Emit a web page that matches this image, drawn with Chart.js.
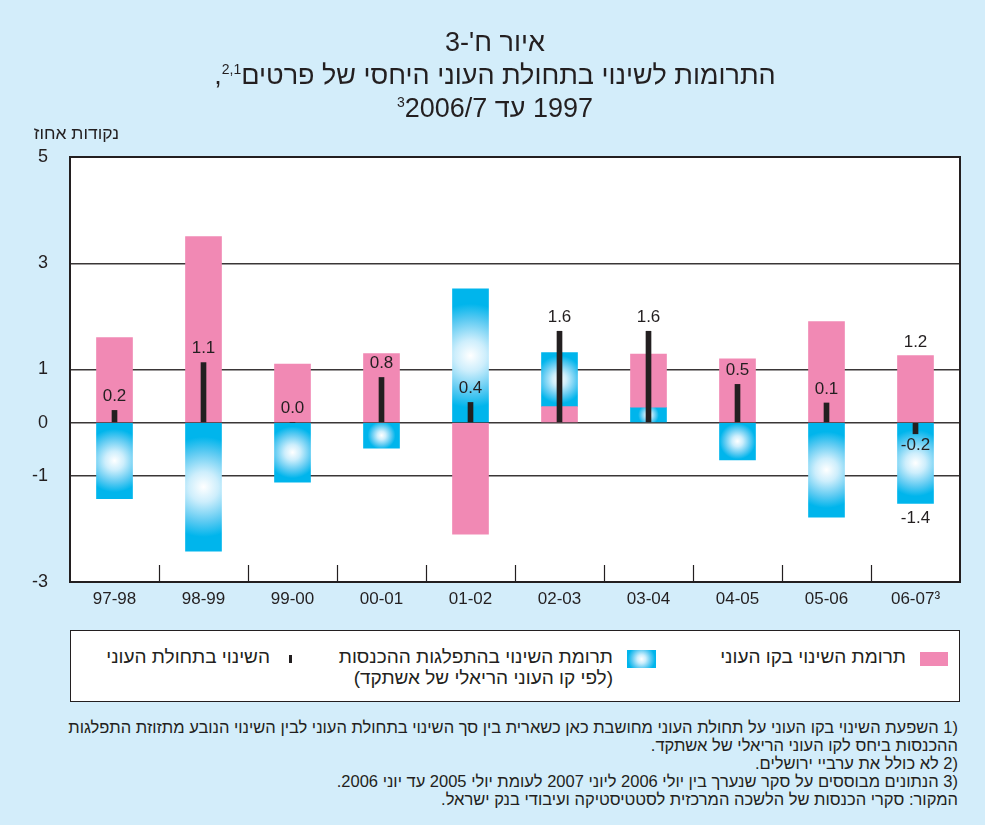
<!DOCTYPE html>
<html lang="he">
<head>
<meta charset="utf-8">
<script src="https://cdn.jsdelivr.net/npm/chart.js@4"></script>
<style>
  body { margin: 0; background: #d3edfa; font-family: "Liberation Sans", Arial, sans-serif; color: #231f20; }
  #page { position: relative; width: 985px; height: 825px; overflow: hidden; }
  #title { position: absolute; left: 0; top: 26px; width: 990px; text-align: center; font-size: 27px; line-height: 33px; z-index: 2; }
  #title sup { font-size: 14px; vertical-align: 10px; line-height: 0; }
  #unit { position: absolute; right: 866px; top: 123px; font-size: 17.5px; white-space: nowrap; z-index: 2; }
  #wrap { position: absolute; left: 0; top: 0; width: 985px; height: 620px; }
  #legend { position: absolute; left: 70px; top: 630px; width: 888px; height: 70px; background: #fff; border: 1.5px solid #231f20; font-size: 19px; }
  .item { position: absolute; white-space: nowrap; line-height: 21px; text-align: right; }
  .sw { position: absolute; }
  #notes { position: absolute; right: 27px; top: 718px; font-size: 16.5px; line-height: 18px; text-align: right; white-space: nowrap; }
</style>
</head>
<body>
<div id="page">
  <div id="title" dir="rtl">
    <div>איור ח'-3</div>
    <div>התרומות לשינוי בתחולת העוני היחסי של פרטים<sup>2,1</sup>,</div>
    <div>1997 עד 2006/7<sup><bdi>3</bdi></sup></div>
  </div>
  <div id="unit" dir="rtl">נקודות אחוז</div>
  <div id="wrap"><canvas id="chart"></canvas></div>
  <div id="legend" dir="rtl"></div>
  <div id="notes" dir="rtl">
    <div><bdi dir="ltr">1)</bdi> השפעת השינוי בקו העוני על תחולת העוני מחושבת כאן כשארית בין סך השינוי בתחולת העוני לבין השינוי הנובע מתזוזת התפלגות</div>
    <div>ההכנסות ביחס לקו העוני הריאלי של אשתקד.</div>
    <div><bdi dir="ltr">2)</bdi> לא כולל את ערביי ירושלים.</div>
    <div><bdi dir="ltr">3)</bdi> הנתונים מבוססים על סקר שנערך בין יולי 2006 ליוני 2007 לעומת יולי 2005 עד יוני 2006.</div>
    <div>המקור: סקרי הכנסות של הלשכה המרכזית לסטטיסטיקה ועיבודי בנק ישראל.</div>
  </div>
</div>
<script>
const categories = ['97-98', '98-99', '99-00', '00-01', '01-02', '02-03', '03-04', '04-05', '05-06', '06-07³'];

// contribution of the change in the poverty line (pink)
const povertyLineContrib = [1.6, 3.5, 1.1, 1.3, -2.1, 0.3, 1.0, 1.2, 1.9, 1.26];
// contribution of the change in income distribution (blue)
const distributionContrib = [-1.43, -2.42, -1.12, -0.48, 2.52, 1.02, 0.29, -0.7, -1.78, -1.52];
// change in poverty incidence (black), as drawn and as printed
const incidenceChange = [0.23, 1.13, 0, 0.85, 0.38, 1.72, 1.72, 0.72, 0.37, -0.21];
const incidenceLabels = ['0.2', '1.1', '0.0', '0.8', '0.4', '1.6', '1.6', '0.5', '0.1', '-0.2'];
const povertyLineLabels = [null, null, null, null, null, null, null, null, null, '1.2'];
const distributionLabels = [null, null, null, null, null, null, null, null, null, '-1.4'];

const yTicks = [-3, -1, 0, 1, 3, 5];

const names = {
    line: 'תרומת השינוי בקו העוני',
    dist: 'תרומת השינוי בהתפלגות ההכנסות',
    distNote: '(לפי קו העוני הריאלי של אשתקד)',
    incidence: 'השינוי בתחולת העוני'
};

const PINK = '#f189b4';
const BLUE = '#00b5ec';
const INK = '#231f20';
const FONT = '"Liberation Sans", Arial, sans-serif';

// when both parts have the same sign, the smaller one sits next to zero
const pinkRanges = [], blueRanges = [];
povertyLineContrib.forEach((p, i) => {
    const b = distributionContrib[i];
    if (p * b > 0) {
        if (Math.abs(p) <= Math.abs(b)) {
            pinkRanges.push([0, p]);
            blueRanges.push([p, p + b]);
        } else {
            blueRanges.push([0, b]);
            pinkRanges.push([b, b + p]);
        }
    } else {
        pinkRanges.push([0, p]);
        blueRanges.push([0, b]);
    }
});

function blueFill(ctx) {
    const chart = ctx.chart;
    if (ctx.type !== 'data' || !chart.chartArea || !chart.scales.y) return BLUE;
    const x = chart.scales.x, y = chart.scales.y;
    const [a, b] = ctx.raw;
    const top = y.getPixelForValue(Math.max(a, b));
    const bot = y.getPixelForValue(Math.min(a, b));
    const cx = x.getPixelForValue(ctx.dataIndex);
    const cy = (top + bot) / 2;
    const h = bot - top;
    const r = 0.35 * h + 5;
    const g = chart.ctx.createRadialGradient(cx, cy, 0, cx, cy, r);
    g.addColorStop(0, '#ffffff');
    g.addColorStop(0.3, '#cdeefc');
    g.addColorStop(0.7, '#5ccaf2');
    g.addColorStop(1, BLUE);
    return g;
}

const plotDecor = {
    id: 'plotDecor',
    beforeDraw(chart) {
        const {ctx, chartArea: a} = chart;
        ctx.save();
        ctx.fillStyle = '#ffffff';
        ctx.fillRect(a.left, a.top, a.right - a.left, a.bottom - a.top);
        ctx.restore();
    },
    afterDatasetsDraw(chart) {
        const {ctx, chartArea: a, scales: {x, y}} = chart;
        ctx.save();
        // inner tick marks between categories
        ctx.strokeStyle = INK;
        ctx.lineWidth = 1.2;
        for (let i = 1; i < categories.length; i++) {
            const px = Math.round((x.getPixelForValue(i - 1) + x.getPixelForValue(i)) / 2) + 0.5;
            ctx.beginPath();
            ctx.moveTo(px, a.bottom);
            ctx.lineTo(px, a.bottom - 17);
            ctx.stroke();
        }
        // frame
        ctx.lineWidth = 2;
        ctx.strokeRect(a.left, a.top, a.right - a.left, a.bottom - a.top);

        // value labels
        ctx.fillStyle = INK;
        ctx.font = '17px ' + FONT;
        ctx.textAlign = 'center';
        ctx.textBaseline = 'middle';
        chart.getDatasetMeta(0).data.forEach((bar, i) => {
            const v = incidenceChange[i];
            const ty = v >= 0 ? bar.y - 14 : bar.y + 12;
            ctx.fillText(incidenceLabels[i], bar.x, ty);
        });
        chart.getDatasetMeta(1).data.forEach((bar, i) => {
            if (!povertyLineLabels[i]) return;
            ctx.fillText(povertyLineLabels[i], bar.x, Math.min(bar.y, bar.base) - 13);
        });
        chart.getDatasetMeta(2).data.forEach((bar, i) => {
            if (!distributionLabels[i]) return;
            ctx.fillText(distributionLabels[i], bar.x, Math.max(bar.y, bar.base) + 15);
        });
        ctx.restore();
    }
};

const chart = new Chart(document.getElementById('chart'), {
    type: 'bar',
    data: {
        labels: categories,
        datasets: [
            {
                label: names.incidence,
                data: incidenceChange,
                backgroundColor: INK,
                barThickness: 5,
                grouped: false,
                order: 0
            },
            {
                label: names.line,
                data: pinkRanges,
                backgroundColor: PINK,
                barThickness: 36,
                grouped: false,
                order: 1
            },
            {
                label: names.dist,
                data: blueRanges,
                backgroundColor: blueFill,
                barThickness: 36,
                grouped: false,
                order: 2
            }
        ]
    },
    options: {
        responsive: true,
        maintainAspectRatio: false,
        animation: false,
        layout: { padding: { left: 20, right: 25, top: 157, bottom: 8 } },
        plugins: {
            legend: { display: false },
            tooltip: { enabled: false }
        },
        scales: {
            x: {
                grid: { display: false, drawTicks: false },
                border: { display: false },
                ticks: { color: INK, font: { family: FONT, size: 17 }, padding: 7, maxRotation: 0, autoSkip: false },
                afterFit: s => { s.height = 30; }
            },
            y: {
                min: -3,
                max: 5,
                afterBuildTicks: s => { s.ticks = yTicks.map(v => ({ value: v })); },
                grid: { color: '#3a3637', lineWidth: 1.4, drawTicks: false },
                border: { display: false },
                ticks: { color: INK, font: { family: FONT, size: 18 }, padding: 22 },
                afterFit: s => { s.width = 50; }
            }
        }
    },
    plugins: [plotDecor]
});

// legend (right-to-left, built from dataset names)
const legend = document.getElementById('legend');
legend.innerHTML = `
    <div class="sw" style="right:11px; top:21px; width:28px; height:14px; background:${PINK}"></div>
    <div class="item" style="right:53px; top:15px">${names.line}</div>
    <div class="sw" style="right:303px; top:19px; width:29px; height:18px; background:radial-gradient(circle at 50% 50%, #ffffff 0%, #cdeefc 25%, #5ccaf2 55%, ${BLUE} 80%)"></div>
    <div class="item" style="right:346px; top:15px">${names.dist}<br>${names.distNote}</div>
    <div class="sw" style="right:667px; top:24px; width:3px; height:8px; background:${INK}"></div>
    <div class="item" style="right:689px; top:15px">${names.incidence}</div>
`;
</script>
</body>
</html>
